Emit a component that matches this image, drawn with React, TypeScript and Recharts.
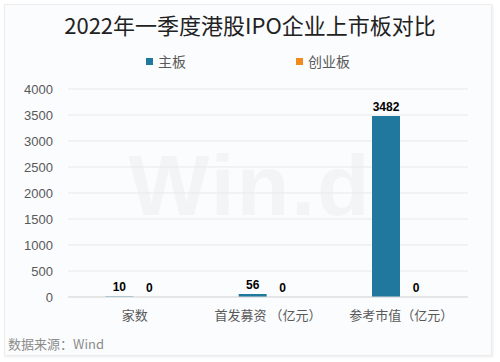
import React from "react";
import { BarChart, Bar, XAxis, YAxis, CartesianGrid, LabelList } from "recharts";

const categories = ["家数", "首发募资 （亿元）", "参考市值（亿元）"];
const mainBoard = [10, 56, 3482];
const growthBoard = [0, 0, 0];
const yTicks = [0, 500, 1000, 1500, 2000, 2500, 3000, 3500, 4000];

const data = categories.map((name, i) => ({
  name,
  main: mainBoard[i],
  growth: growthBoard[i],
}));

const FONT = '"Microsoft YaHei", "Noto Sans CJK SC", "Noto Sans", sans-serif';
const ARIAL = '"Liberation Sans", Arial, sans-serif';
const BAR_GAP = 2;

// zero-height bars get no label in recharts 3, so the growth value is drawn next to the main bar
const growthLabel = (props: any) => {
  const { x, y, width, index } = props;
  const bx = Number(x) + Number(width) + BAR_GAP + Number(width) / 2;
  const baseY = Number(y) + Number(props.height ?? 0);
  return (
    <text x={bx} y={baseY - 5} textAnchor="middle" fill="#000" fontSize={12} fontWeight="bold" fontFamily={ARIAL}>
      {growthBoard[index]}
    </text>
  );
};

export default function App() {
  return (
    <div
      style={{
        position: "absolute",
        left: 0,
        top: 0,
        width: 500,
        height: 362,
        background: "#ffffff",
        fontFamily: FONT,
        overflow: "hidden",
      }}
    >
      <div
        style={{
          position: "absolute",
          left: 4,
          top: 4,
          width: 486,
          height: 350,
          background: "#fbfcfd",
          border: "1px solid #ececec",
          boxShadow: "1px 1px 2px rgba(0,0,0,0.08)",
        }}
      />
      <div
        style={{
          position: "absolute",
          left: 0,
          top: 136,
          width: 500,
          textAlign: "center",
          fontFamily: ARIAL,
          fontWeight: "bold",
          fontSize: 86,
          color: "#f3f4f6",
          letterSpacing: 2,
        }}
      >
        Win.d
      </div>
      <div
        style={{
          position: "absolute",
          left: 0,
          top: 8,
          width: 500,
          textAlign: "center",
          fontSize: 22,
          color: "#222",
        }}
      >
        2022年一季度港股IPO企业上市板对比
      </div>
      <div style={{ position: "absolute", left: 146, top: 51, fontSize: 14, color: "#595959", display: "flex", alignItems: "center" }}>
        <span style={{ width: 7, height: 7, background: "#21789f", marginRight: 5, display: "inline-block" }} />
        主板
      </div>
      <div style={{ position: "absolute", left: 296, top: 51, fontSize: 14, color: "#595959", display: "flex", alignItems: "center" }}>
        <span style={{ width: 7, height: 7, background: "#f28a1f", marginRight: 5, display: "inline-block" }} />
        创业板
      </div>
      <div style={{ position: "absolute", left: 8, top: 334, fontSize: 13, color: "#8c8c8c" }}>
        数据来源：Wind
      </div>
      <div style={{ position: "absolute", left: 0, top: 0 }}>
        <BarChart
          width={500}
          height={362}
          data={data}
          margin={{ top: 89, right: 32, bottom: 35, left: 0 }}
          barCategoryGap="28%"
          barGap={BAR_GAP}
        >
          <CartesianGrid vertical={false} stroke="#e9e9e9" />
          <XAxis
            dataKey="name"
            height={30}
            tickLine={false}
            axisLine={{ stroke: "#d9d9d9" }}
            tick={{ fill: "#595959", fontSize: 13, fontFamily: FONT }}
            tickMargin={8}
            interval={0}
          />
          <YAxis
            width={68}
            domain={[0, 4000]}
            ticks={yTicks}
            tickLine={false}
            axisLine={false}
            tickMargin={9}
            tick={{ fill: "#595959", fontSize: 13, fontFamily: ARIAL }}
          />
          <Bar dataKey="main" fill="#21789f" isAnimationActive={false}>
            <LabelList dataKey="main" position="top" fill="#000" fontSize={12} fontWeight="bold" fontFamily={ARIAL} />
            <LabelList dataKey="growth" content={growthLabel} />
          </Bar>
          <Bar dataKey="growth" fill="#f28a1f" isAnimationActive={false} />
        </BarChart>
      </div>
    </div>
  );
}
